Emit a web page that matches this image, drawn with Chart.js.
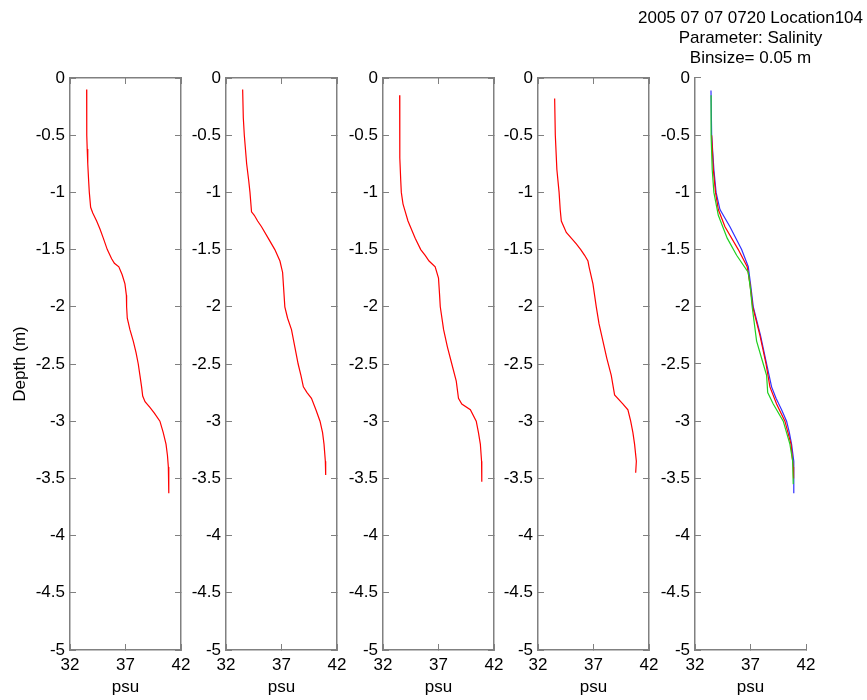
<!DOCTYPE html>
<html>
<head>
<meta charset="utf-8">
<script src="https://cdn.jsdelivr.net/npm/chart.js@4.4.1/dist/chart.umd.min.js"></script>
<style>
  body { margin: 0; background: #fff; overflow: hidden; }
  #wrap { position: relative; width: 867px; height: 700px; }
  #wrap canvas { position: absolute; top: 0; }
</style>
</head>
<body>
<div id="wrap"></div>
<script>
// tick labels
const depthTicks = [0, -0.5, -1, -1.5, -2, -2.5, -3, -3.5, -4, -4.5, -5];
const psuTicks = [32, 37, 42];

// cast 1
const cast1Depth = [-0.10, -0.30, -0.50, -0.62, -0.75, -0.90, -1.00, -1.13, -1.18, -1.25, -1.32, -1.40, -1.50, -1.58, -1.62, -1.65, -1.72, -1.80, -1.90, -2.00, -2.10, -2.20, -2.30, -2.40, -2.50, -2.60, -2.70, -2.78, -2.83, -2.88, -2.93, -3.00, -3.10, -3.20, -3.30, -3.40, -3.55, -3.63];
const cast1Sal = [33.50, 33.50, 33.52, 33.55, 33.60, 33.68, 33.74, 33.86, 34.05, 34.40, 34.70, 35.00, 35.36, 35.75, 36.00, 36.40, 36.70, 36.95, 37.08, 37.10, 37.16, 37.40, 37.70, 37.95, 38.15, 38.30, 38.45, 38.55, 38.76, 39.20, 39.60, 40.10, 40.40, 40.65, 40.78, 40.86, 40.90, 40.90];

// cast 2
const cast2Depth = [-0.10, -0.35, -0.50, -0.75, -0.90, -1.00, -1.17, -1.20, -1.25, -1.30, -1.40, -1.50, -1.60, -1.70, -1.85, -2.00, -2.10, -2.20, -2.35, -2.50, -2.60, -2.70, -2.75, -2.80, -2.90, -3.00, -3.10, -3.20, -3.35, -3.47];
const cast2Sal = [33.50, 33.56, 33.65, 33.86, 34.05, 34.16, 34.30, 34.55, 34.85, 35.20, 35.80, 36.40, 36.86, 37.10, 37.20, 37.30, 37.55, 37.90, 38.20, 38.50, 38.75, 38.97, 39.30, 39.70, 40.10, 40.47, 40.70, 40.83, 40.95, 40.98];

// cast 3
const cast3Depth = [-0.15, -0.40, -0.70, -0.90, -1.00, -1.10, -1.15, -1.25, -1.40, -1.50, -1.55, -1.60, -1.65, -1.75, -1.90, -2.00, -2.20, -2.35, -2.50, -2.65, -2.80, -2.85, -2.90, -3.00, -3.10, -3.20, -3.35, -3.53];
const cast3Sal = [33.50, 33.50, 33.53, 33.60, 33.65, 33.80, 33.95, 34.25, 34.90, 35.40, 35.80, 36.15, 36.70, 37.00, 37.10, 37.16, 37.46, 37.80, 38.20, 38.60, 38.80, 39.10, 39.87, 40.40, 40.60, 40.77, 40.88, 40.90];

// cast 4
const cast4Depth = [-0.18, -0.50, -0.80, -1.00, -1.15, -1.25, -1.35, -1.40, -1.45, -1.50, -1.55, -1.60, -1.65, -1.80, -2.00, -2.15, -2.30, -2.45, -2.60, -2.77, -2.85, -2.90, -3.00, -3.10, -3.20, -3.35, -3.45];
const cast4Sal = [33.50, 33.56, 33.70, 33.90, 34.00, 34.10, 34.55, 35.00, 35.45, 35.85, 36.20, 36.50, 36.60, 36.95, 37.25, 37.50, 37.85, 38.20, 38.60, 38.90, 39.66, 40.10, 40.35, 40.55, 40.70, 40.86, 40.80];

// combined panel
const greenDepth = [-0.15, -0.50, -0.80, -1.00, -1.20, -1.40, -1.55, -1.70, -1.85, -2.00, -2.30, -2.50, -2.60, -2.75, -2.85, -3.00, -3.20, -3.35, -3.55];
const greenSal = [33.45, 33.45, 33.55, 33.70, 34.10, 34.90, 35.75, 36.80, 37.00, 37.15, 37.55, 38.15, 38.45, 38.55, 39.05, 39.95, 40.55, 40.80, 40.85];
const redDepth = [-0.50, -0.80, -1.00, -1.15, -1.30, -1.50, -1.65, -1.80, -2.00, -2.25, -2.50, -2.70, -2.85, -3.00, -3.20, -3.40, -3.50];
const redSal = [33.50, 33.65, 33.85, 34.10, 34.70, 35.90, 36.70, 36.95, 37.20, 37.85, 38.40, 38.75, 39.35, 40.10, 40.65, 40.85, 40.88];
const blueDepth = [-0.11, -0.50, -0.80, -1.00, -1.15, -1.30, -1.50, -1.65, -1.80, -2.00, -2.25, -2.50, -2.70, -2.80, -2.90, -3.00, -3.10, -3.20, -3.35, -3.63];
const blueSal = [33.44, 33.50, 33.70, 33.90, 34.25, 35.15, 36.20, 36.80, 37.00, 37.25, 37.90, 38.45, 38.90, 39.30, 39.80, 40.25, 40.50, 40.70, 40.90, 40.90];

const FONT = '"Liberation Sans", Arial, sans-serif';
const panelLeft = [70, 226, 383, 538, 695];
const plotW = 111;
const side = 70;

function pts(d, s) {
  return d.map((v, i) => ({ x: s[i], y: v }));
}

function line(d, s, color) {
  return { data: pts(d, s), borderColor: color, borderWidth: 1.2, pointRadius: 0, showLine: true, tension: 0 };
}

function makePanel(i, datasets, opts) {
  const canvas = document.createElement('canvas');
  canvas.width = plotW + 2 * side;
  canvas.height = 700;
  canvas.style.left = (panelLeft[i] - side) + 'px';
  document.getElementById('wrap').appendChild(canvas);

  const grid = { display: true, drawOnChartArea: false, drawTicks: true, tickLength: -6, color: '#808080', lineWidth: 1 };
  const border = { display: true, color: '#808080', width: 1.5 };
  const tickFont = { family: FONT, size: 17 };
  const hidden = { display: false };
  const setX = a => { a.ticks = psuTicks.map(v => ({ value: v })); };
  const setY = a => { a.ticks = depthTicks.map(v => ({ value: v })); };

  const scales = {
    x: {
      type: 'linear', position: 'bottom', min: 32, max: 42,
      afterBuildTicks: setX,
      ticks: { padding: 11, color: '#000', font: tickFont, maxRotation: 0, autoSkip: false },
      grid: grid, border: border,
      title: { display: true, text: 'psu', color: '#000', font: { family: FONT, size: 17 }, padding: { top: 0, bottom: 2 } },
      afterFit: a => { a.height = 50; }
    },
    y: {
      type: 'linear', position: 'left', min: -5, max: 0,
      afterBuildTicks: setY,
      ticks: { padding: 11, color: '#000', font: tickFont, autoSkip: false, callback: v => String(v) },
      grid: grid, border: border,
      title: { display: !!opts.yTitle, text: opts.yTitle || '', color: '#000', font: { family: FONT, size: 17 }, padding: { top: 10, bottom: 0 } },
      afterFit: a => { a.width = side; }
    },
    y2: {
      type: 'linear', position: 'right', min: -5, max: 0,
      afterBuildTicks: setY,
      ticks: { display: false },
      grid: opts.box ? grid : hidden,
      border: opts.box ? border : hidden,
      afterFit: a => { a.width = side; }
    }
  };
  if (opts.box) {
    scales.x2 = {
      type: 'linear', position: 'top', min: 32, max: 42,
      afterBuildTicks: setX,
      ticks: { display: false },
      grid: grid, border: border,
      afterFit: a => { a.height = 78; }
    };
  }

  new Chart(canvas, {
    type: 'scatter',
    data: { datasets: datasets },
    options: {
      responsive: false,
      animation: false,
      layout: { padding: 0 },
      scales: scales,
      plugins: {
        legend: { display: false },
        tooltip: { enabled: false },
        title: {
          display: !!opts.title,
          text: opts.title || '',
          color: '#000',
          font: { family: FONT, size: 17, weight: 'normal', lineHeight: 1.18 },
          padding: { top: 8, bottom: 9.8 }
        }
      }
    }
  });
}

makePanel(0, [line(cast1Depth, cast1Sal, '#ff0000')], { box: true, yTitle: 'Depth (m)' });
makePanel(1, [line(cast2Depth, cast2Sal, '#ff0000')], { box: true });
makePanel(2, [line(cast3Depth, cast3Sal, '#ff0000')], { box: true });
makePanel(3, [line(cast4Depth, cast4Sal, '#ff0000')], { box: true });
makePanel(4, [
  line(greenDepth, greenSal, '#20d020'),
  line(redDepth, redSal, '#ff0000'),
  line(blueDepth, blueSal, '#3030ff')
], { box: false, title: ['2005 07 07 0720 Location104', 'Parameter: Salinity', 'Binsize= 0.05 m'] });
</script>
</body>
</html>
